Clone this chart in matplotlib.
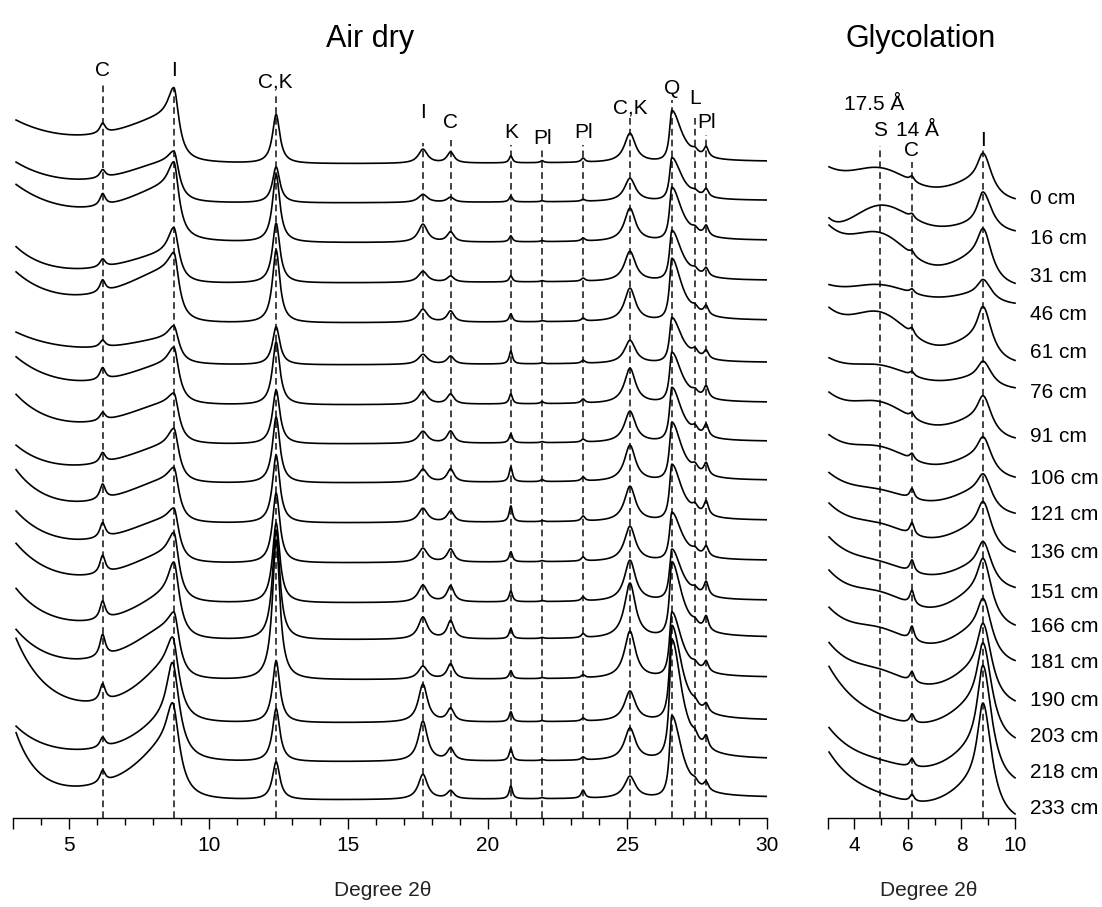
import numpy as np
import matplotlib.pyplot as plt

plt.rcParams['font.family'] = ['Liberation Sans', 'DejaVu Sans']

W, H = 1102, 907
Y0 = 818  # pixel row of both x axes; y data = pixels above that row

depths = ['0 cm', '16 cm', '31 cm', '46 cm', '61 cm', '76 cm', '91 cm', '106 cm',
          '121 cm', '136 cm', '151 cm', '166 cm', '181 cm', '190 cm', '203 cm',
          '218 cm', '233 cm']

# ---- Air dry patterns, top (0 cm) to bottom (233 cm), intensities in px
air_base = [654, 615, 575, 535, 495, 453, 413, 374, 335, 295, 255, 215, 178, 138, 95, 56, 18]
air_low = [40, 38, 54, 36, 47, 32, 46, 48, 36, 52, 50, 57, 52, 50, 89, 37, 73]
air_tau = [2.3, 1.9, 2.2, 1.2, 1.6, 2.1, 1.7, 1.4, 1.3, 1.2, 1.4, 1.5, 1.3, 1.3, 1.2, 1.2, 0.8]
air_ihump = [45, 40, 53, 30, 53, 25, 40, 41, 38, 44, 44, 49, 46, 54, 59, 45, 60]
air_ihump_w = [2.5, 2.5, 2.5, 2.5, 2.5, 2.5, 2.5, 2.5, 2.5, 2.5, 2.5, 2.5, 2.0, 2.0, 1.6, 1.6, 1.6]
air_i = [29, 11, 25, 26, 17, 13, 17, 10, 17, 12, 11, 21, 32, 14, 27, 55, 38]
air_i_pos = [8.75] * 14 + [8.7, 8.7, 8.7]
air_i_wr = [0.22] * 12 + [0.24, 0.24, 0.28, 0.3, 0.3]
air_c6 = [10, 8, 12, 8, 12, 7, 12, 8, 10, 15, 15, 18, 18, 22, 17, 10, 12]
air_ck12 = [49, 36, 68, 60, 73, 38, 63, 54, 66, 68, 70, 80, 110, 140, 62, 53, 38]
air_i17 = [14, 8, 18, 11, 13, 10, 13, 12, 13, 14, 14, 17, 22, 13, 38, 40, 25]
air_c18 = [11, 5, 10, 6, 11, 8, 10, 12, 13, 11, 13, 16, 18, 15, 13, 12, 8]
air_k20 = [7, 6, 6, 6, 8, 13, 10, 9, 15, 16, 10, 11, 10, 8, 10, 12, 13]
air_pl22 = [2, 1, 1, 1, 1, 1, 2, 1, 2, 1, 1, 1, 1, 1, 1, 1, 1]
air_pl23 = [4, 2, 3, 3, 3, 3, 4, 3, 4, 5, 4, 4, 4, 3, 3, 3, 8]
air_ck25 = [29, 23, 33, 30, 33, 23, 35, 31, 36, 35, 35, 41, 55, 47, 30, 32, 22]
air_q26 = [51, 43, 53, 50, 62, 45, 50, 54, 58, 56, 48, 51, 75, 65, 95, 120, 82]
air_l27 = [4, 3, 4, 4, 4, 6, 4, 6, 6, 6, 4, 4, 4, 4, 4, 6, 4]
air_pl27 = [10, 8, 10, 8, 9, 8, 12, 12, 12, 14, 10, 14, 14, 10, 8, 12, 8]

air_lines = [6.2, 8.75, 12.4, 17.68, 18.67, 20.83, 21.95, 23.42, 25.1, 26.6, 27.43, 27.83]
air_names = ['C', 'I', 'C,K', 'I', 'C', 'K', 'Pl', 'Pl', 'C,K', 'Q', 'L', 'Pl']

# ---- Glycolated patterns
gly_base = [614, 583, 528, 512, 451, 427, 375, 336, 300, 260, 225, 185, 150, 108, 69, 27, -9]
gly_low = [33, 14, 59, 19, 54, 31, 47, 44, 43, 52, 54, 59, 57, 64, 81, 61, 73]
gly_tau = [1.6, 0.35] + [1.6] * 15
gly_s = [23, 28, 35, 14, 35, 15, 24, 19, 12, 15, 12, 18, 18, 16, 4, 7, 6]
gly_c = [5, 4, 4, 4, 6, 4, 5, 6, 10, 12, 12, 14, 14, 10, 9, 8, 7]
gly_ihump = [24, 11, 34, 12, 28, 13, 24, 25, 27, 31, 27, 41, 39, 41, 46, 43, 44]
gly_i = [26, 32, 26, 14, 31, 16, 22, 19, 16, 24, 23, 32, 29, 44, 58, 81, 78]

gly_lines = [4.95, 6.16, 8.82]


def lor(x, x0, w):
    return 1.0 / (1.0 + ((x - x0) / w) ** 2)


def split_lor(x, x0, wl, wr):
    w = np.where(x < x0, wl, wr)
    return 1.0 / (1.0 + ((x - x0) / w) ** 2)


def px(y):
    return Y0 - y


fig = plt.figure(figsize=(W / 100, H / 100), dpi=100)
ax1 = fig.add_axes([13.3 / W, 1 - Y0 / H, 753.4 / W, Y0 / H])
ax2 = fig.add_axes([827.7 / W, 1 - Y0 / H, 187.3 / W, Y0 / H])

# air dry traces
x = np.linspace(3.1, 30, 3000)
for i in range(len(depths)):
    xi = air_i_pos[i]
    ill = np.where(x < xi,
                   air_ihump[i] * lor(x, xi, air_ihump_w[i]) + air_i[i] * lor(x, xi, 0.25),
                   (air_ihump[i] + air_i[i]) * lor(x, xi, air_i_wr[i]))
    y = (air_base[i] + 0.15 * (x - 15) + air_low[i] * np.exp(-(x - 3) / air_tau[i]) + ill
         + air_c6[i] * lor(x, 6.2, 0.12) + air_ck12[i] * lor(x, 12.42, 0.16)
         + air_i17[i] * lor(x, 17.68, 0.2) + air_c18[i] * lor(x, 18.67, 0.15)
         + air_k20[i] * lor(x, 20.83, 0.07) + air_pl22[i] * lor(x, 21.95, 0.07)
         + air_pl23[i] * lor(x, 23.42, 0.08) + air_ck25[i] * lor(x, 25.1, 0.24)
         + air_q26[i] * split_lor(x, 26.6, 0.1, 0.42) + air_l27[i] * lor(x, 27.43, 0.12)
         + air_pl27[i] * lor(x, 27.83, 0.1))
    ax1.plot(x, y, color='black', lw=1.2, zorder=3)

air_tops = [83, 88, 95, 143, 140, 145, 147, 145, 118, 100, 115, 135]
air_lab_y = [70, 71, 82, 113, 123, 133, 138, 133, 108, 88, 99, 123]
for pos, name, top, ly in zip(air_lines, air_names, air_tops, air_lab_y):
    ax1.plot([pos, pos], [0, px(top)], color='#222222', lw=1.2,
             dashes=(4, 2.5), zorder=2, clip_on=False)
    ax1.text(pos, px(ly), name, ha='center', va='center', fontsize=15)

# glycolated traces
xg = np.linspace(3.05, 10, 1500)
for i in range(len(depths)):
    ill = np.where(xg < 8.8,
                   gly_ihump[i] * lor(xg, 8.8, 1.6) + gly_i[i] * lor(xg, 8.8, 0.25),
                   (gly_ihump[i] + gly_i[i]) * lor(xg, 8.8, 0.4))
    y = (gly_base[i] + gly_low[i] * np.exp(-(xg - 3) / gly_tau[i])
         + gly_s[i] * np.exp(-0.5 * ((xg - 5.0) / 1.0) ** 2)
         + gly_c[i] * lor(xg, 6.15, 0.1) + ill)
    ax2.plot(xg, y, color='black', lw=1.2, zorder=3, clip_on=False)

gly_tops = [146, 162, 150]
for pos, top in zip(gly_lines, gly_tops):
    ax2.plot([pos, pos], [0, px(top)], color='#222222', lw=1.2,
             dashes=(4, 2.5), zorder=2, clip_on=False)
ax2.text(4.73, px(105), '17.5 Å', ha='center', va='center', fontsize=15)
ax2.text(4.95, px(131), 'S', ha='center', va='center', fontsize=15)
ax2.text(6.34, px(130), '14 Å', ha='center', va='center', fontsize=15)
ax2.text(6.15, px(150), 'C', ha='center', va='center', fontsize=15)
ax2.text(8.8, px(140), 'I', ha='center', va='center', fontsize=15)

label_y = [198, 239, 277, 315, 352, 393, 437, 478, 515, 552, 592, 627, 663, 700, 737, 773, 808]
for name, ly in zip(depths, label_y):
    ax2.text(10.56, px(ly), name, ha='left', va='center', fontsize=15, clip_on=False)

# axes styling
for ax, lo, hi in [(ax1, 3, 30), (ax2, 3, 10)]:
    ax.set_xlim(lo, hi)
    ax.set_ylim(0, Y0)
    ax.patch.set_visible(False)
    for s in ['left', 'right', 'top']:
        ax.spines[s].set_visible(False)
    ax.spines['bottom'].set_linewidth(1.0)
    ax.set_yticks([])
    ax.tick_params(axis='x', which='major', direction='out', length=8, width=1.0,
                   pad=5, labelsize=15)
    ax.tick_params(axis='x', which='minor', direction='out', length=5, width=1.0)

ax1.set_xticks([3, 5, 10, 15, 20, 25, 30])
ax1.set_xticklabels(['', '5', '10', '15', '20', '25', '30'])
ax1.set_xticks(np.arange(4, 30, 1), minor=True)
ax2.set_xticks([3, 4, 6, 8, 10])
ax2.set_xticklabels(['', '4', '6', '8', '10'])
ax2.set_xticks([5, 7, 9], minor=True)

fig.text(370 / W, 1 - 47 / H, 'Air dry', ha='center', va='baseline', fontsize=22)
fig.text(921 / W, 1 - 47 / H, 'Glycolation', ha='center', va='baseline', fontsize=22)
fig.text(383 / W, 1 - 891 / H, 'Degree 2θ', ha='center', va='center', fontsize=15,
         color='#222222')
fig.text(929 / W, 1 - 891 / H, 'Degree 2θ', ha='center', va='center', fontsize=15,
         color='#222222')

fig.savefig('out.png', dpi=100)
